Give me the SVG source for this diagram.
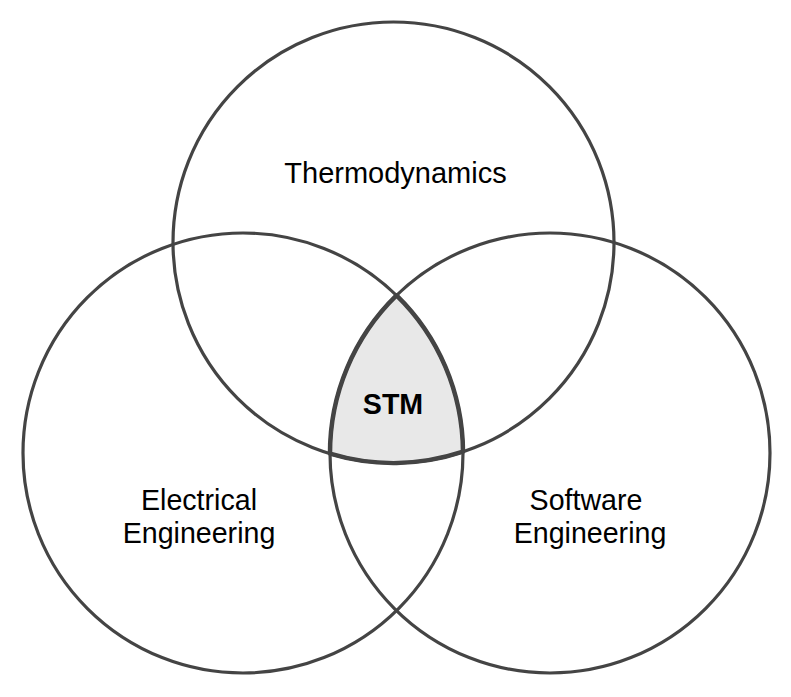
<svg xmlns="http://www.w3.org/2000/svg" width="791" height="697" viewBox="0 0 791 697">
<style>
.c{fill:none;stroke:#444444;stroke-width:3.2}
.t{font-family:"Liberation Sans",Arial,Helvetica,sans-serif;font-size:28.6px;fill:#000;text-anchor:middle}
.b{font-weight:bold}
</style>
<rect width="791" height="697" fill="#ffffff"/>
<g id="stm">
<path d="M396.5 295.4 A220 220 0 0 0 330 453.7 A220.5 220.5 0 0 0 463 451.7 A220 220 0 0 0 396.5 295.4 Z" fill="#e8e8e8" stroke="#444444" stroke-width="4.5" stroke-linejoin="round"/>
</g>
<g id="thermodynamics">
<circle class="c" cx="393.5" cy="242.5" r="220.5"/>
<text class="t" x="395.5" y="183" style="font-size:29px">Thermodynamics</text>
</g>
<g id="electrical">
<circle class="c" cx="243" cy="453" r="220"/>
<text class="t" x="199" y="510">Electrical</text>
<text class="t" x="199" y="543">Engineering</text>
</g>
<g id="software">
<circle class="c" cx="550" cy="453" r="220"/>
<text class="t" x="586" y="510">Software</text>
<text class="t" x="590" y="543">Engineering</text>
</g>
<g id="stm-label">
<text class="t b" x="393" y="414">STM</text>
</g>
<g id="connectors"/>
</svg>
